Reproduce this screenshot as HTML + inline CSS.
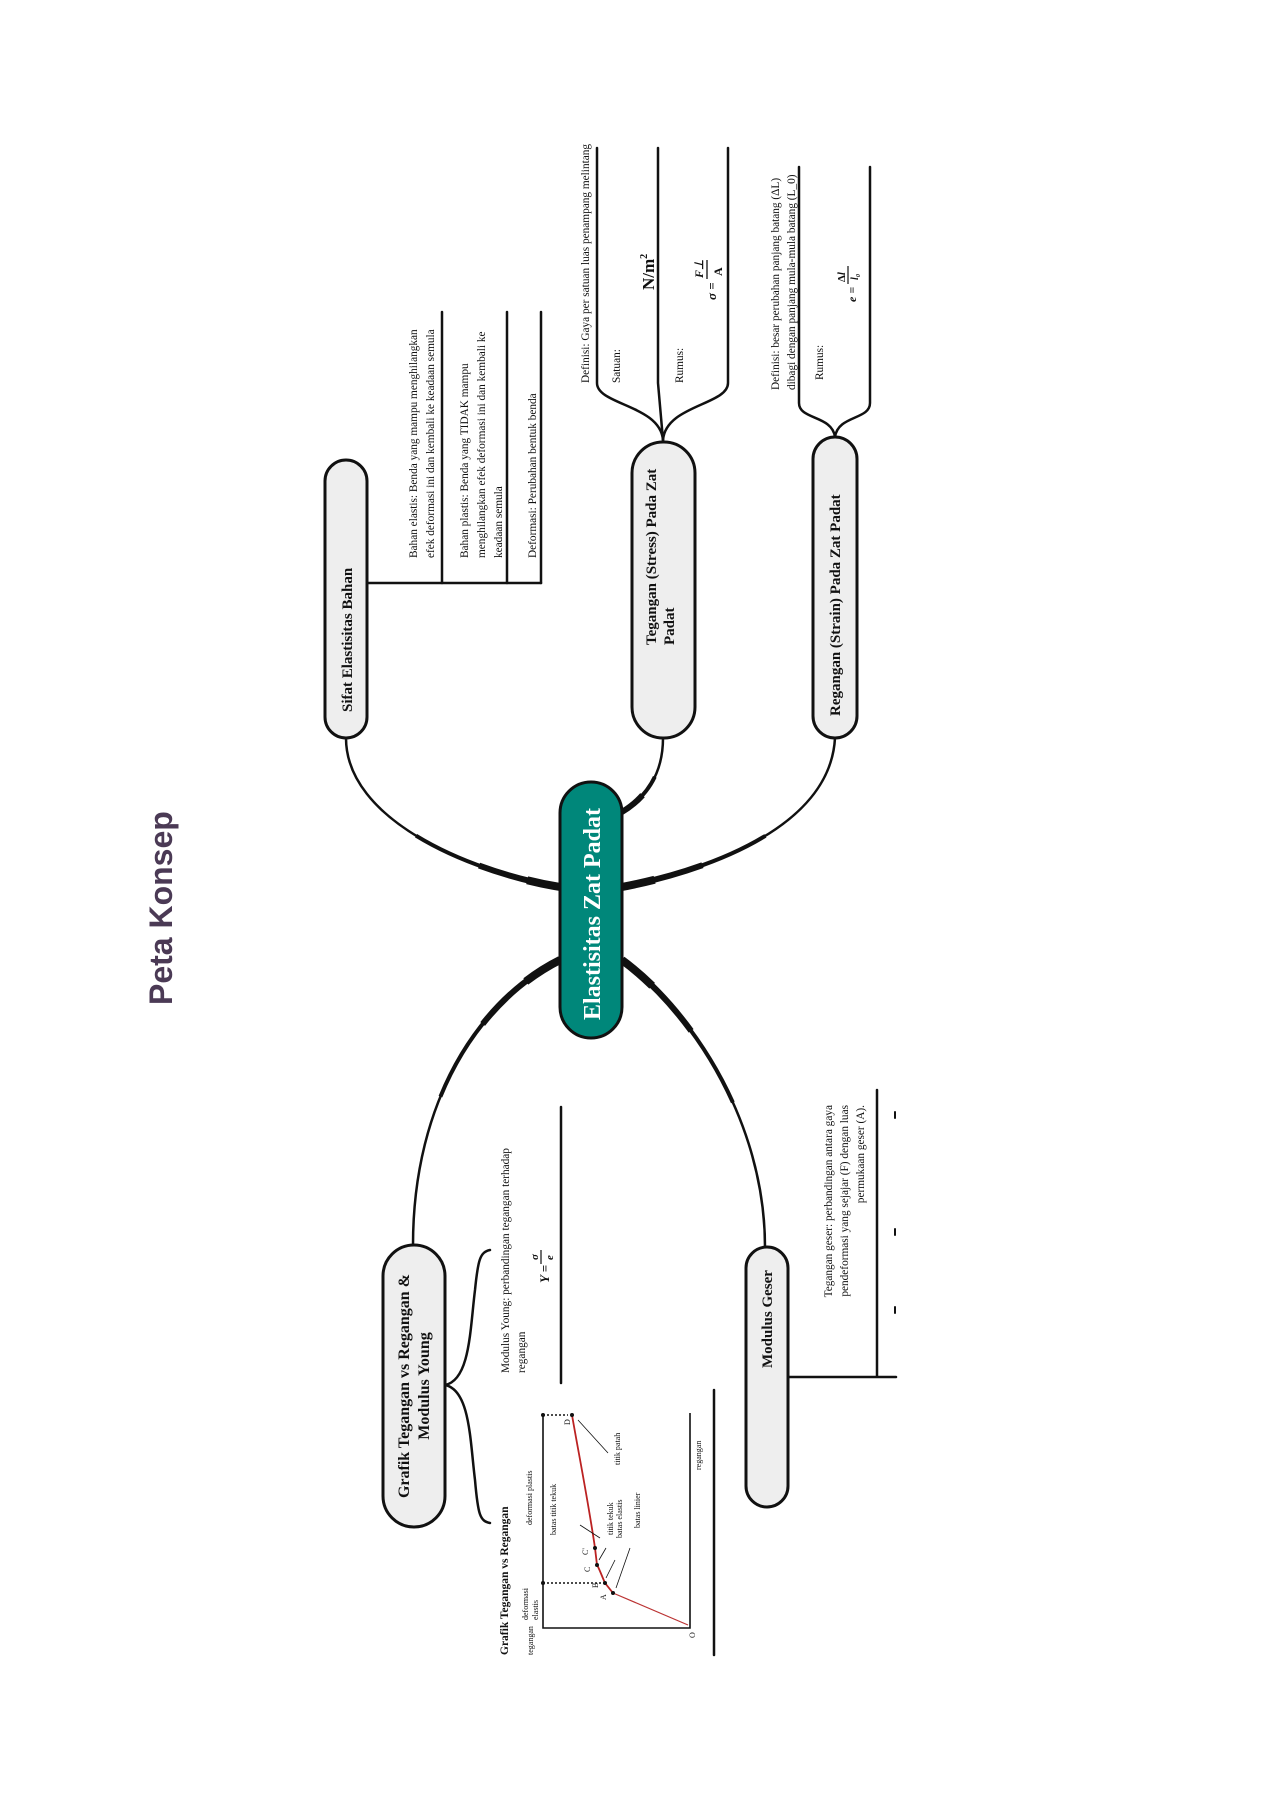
<!DOCTYPE html>
<html><head><meta charset="utf-8"><style>
html,body{margin:0;padding:0;background:#fff;}
svg{display:block;}
text{font-family:"Liberation Serif",serif;fill:#111;}
.b{font-weight:bold;}
</style></head><body>
<svg width="1272" height="1800" viewBox="0 0 1272 1800" xmlns="http://www.w3.org/2000/svg">
<defs>
<path id="c1" d="M346,738 C346,820 470,872 560,887"/>
<path id="c2" d="M663,738 C663,775 645,798 622,812"/>
<path id="c3" d="M835,738 C830,830 700,872 622,887"/>
<path id="c4" d="M413,1245 C413,1100 480,1000 560,960"/>
<path id="c5" d="M765,1247 C765,1120 690,1010 622,960"/>
</defs>
<!-- Title -->
<text transform="translate(172,1005) rotate(-90)" style="font-family:'Liberation Sans',sans-serif;font-weight:bold;font-size:32px;fill:#4b3a55">Peta Konsep</text>

<g fill="none" stroke="#111" stroke-linecap="butt">
<!-- main connectors (tapered) -->
<g stroke-width="2.5">
<path d="M346,738 C346,820 470,872 560,887"/>
<path d="M663,738 C663,775 645,798 622,812"/>
<path d="M835,738 C830,830 700,872 622,887"/>
<path d="M413,1245 C413,1100 480,1000 560,960"/>
<path d="M765,1247 C765,1120 690,1010 622,960"/>
</g>
<g stroke-width="4" stroke-dasharray="0 45 55">
<path pathLength="100" d="M346,738 C346,820 470,872 560,887"/>
<path pathLength="100" d="M663,738 C663,775 645,798 622,812"/>
<path pathLength="100" d="M835,738 C830,830 700,872 622,887"/>
<path pathLength="100" d="M413,1245 C413,1100 480,1000 560,960"/>
<path pathLength="100" d="M765,1247 C765,1120 690,1010 622,960"/>
</g>
<g stroke-width="6" stroke-dasharray="0 70 30">
<path pathLength="100" d="M346,738 C346,820 470,872 560,887"/>
<path pathLength="100" d="M663,738 C663,775 645,798 622,812"/>
<path pathLength="100" d="M835,738 C830,830 700,872 622,887"/>
<path pathLength="100" d="M413,1245 C413,1100 480,1000 560,960"/>
<path pathLength="100" d="M765,1247 C765,1120 690,1010 622,960"/>
</g>
<g stroke-width="8" stroke-dasharray="0 88 12">
<path pathLength="100" d="M346,738 C346,820 470,872 560,887"/>
<path pathLength="100" d="M835,738 C830,830 700,872 622,887"/>
<path pathLength="100" d="M413,1245 C413,1100 480,1000 560,960"/>
<path pathLength="100" d="M765,1247 C765,1120 690,1010 622,960"/>
</g>
</g>
<g fill="none" stroke="#111" stroke-linecap="round">
<!-- Sifat bracket -->
<path d="M367,583 L541,583" stroke-width="2.5"/>
<path d="M442,312 L442,583 M507,312 L507,583 M541,312 L541,583" stroke-width="2.5"/>

<!-- Stress branches -->
<path d="M597,148 L597,383 C597,405 660,405 663,440" stroke-width="2.5"/>
<path d="M658,148 L658,383 L663,440" stroke-width="2.5"/>
<path d="M728,148 L728,383 C728,405 666,405 663,440" stroke-width="2.5"/>

<!-- Strain branches -->
<path d="M799,167 L799,403 C799,420 832,415 835,437" stroke-width="2.5"/>
<path d="M870,167 L870,403 C870,420 838,415 835,437" stroke-width="2.5"/>

<!-- Grafik brace -->
<path d="M445,1385 C470,1380 470,1330 475,1290 C478,1260 480,1252 490,1250" stroke-width="2.5"/>
<path d="M445,1385 C470,1390 470,1440 475,1480 C478,1515 480,1521 490,1523" stroke-width="2.5"/>
<path d="M561,1107 L561,1383" stroke-width="2.5"/>
<path d="M714,1390 L714,1655" stroke-width="2.5"/>

<!-- Modulus geser -->
<path d="M788,1377 L896,1377 M877,1090 L877,1377" stroke-width="2.5"/>
<path d="M895,1112 L895,1118 M895,1229 L895,1235 M895,1307 L895,1313" stroke-width="2"/>
</g>

<!-- Nodes -->
<g stroke="#111" stroke-width="3" fill="#eeeeee">
<rect x="325" y="460" width="42" height="278" rx="21"/>
<rect x="632" y="442" width="63" height="296" rx="31"/>
<rect x="813" y="437" width="44" height="301" rx="22"/>
<rect x="383" y="1245" width="62" height="282" rx="31"/>
<rect x="746" y="1247" width="42" height="260" rx="21"/>
<rect x="560" y="782" width="62" height="256" rx="31" fill="#00877a"/>
</g>

<text class="b" transform="translate(352,712) rotate(-90)" font-size="15">Sifat Elastisitas Bahan</text>
<text transform="translate(656,645) rotate(-90)" font-size="15" class="b">Tegangan  (Stress) Pada Zat</text>
<text transform="translate(674,645) rotate(-90)" font-size="15" class="b">Padat</text>
<text transform="translate(840,716) rotate(-90)" font-size="15" class="b">Regangan (Strain) Pada Zat Padat</text>
<text transform="translate(600,1020) rotate(-90)" font-size="24" class="b" style="fill:#fff">Elastisitas Zat Padat</text>
<text transform="translate(409,1386) rotate(-90)" font-size="16" class="b" text-anchor="middle">Grafik Tegangan vs Regangan &amp;</text>
<text transform="translate(429,1386) rotate(-90)" font-size="16" class="b" text-anchor="middle">Modulus Young</text>
<text transform="translate(772,1368) rotate(-90)" font-size="15" class="b">Modulus Geser</text>

<g font-size="11.3">
<text transform="translate(417,558) rotate(-90)">Bahan elastis: Benda yang mampu menghilangkan</text>
<text transform="translate(434,558) rotate(-90)">efek deformasi ini dan kembali ke keadaan semula</text>
<text transform="translate(468,558) rotate(-90)">Bahan plastis: Benda yang TIDAK mampu</text>
<text transform="translate(485,558) rotate(-90)">menghilangkan efek deformasi ini dan kembali ke</text>
<text transform="translate(502,558) rotate(-90)">keadaan semula</text>
<text transform="translate(536,558) rotate(-90)">Deformasi: Perubahan bentuk benda</text>

<text transform="translate(589,383) rotate(-90)">Definisi: Gaya per satuan luas penampang melintang</text>
<text transform="translate(620,383) rotate(-90)">Satuan:</text>
<text transform="translate(683,383) rotate(-90)">Rumus:</text>

<text transform="translate(779,390) rotate(-90)">Definisi: besar perubahan panjang batang (ΔL)</text>
<text transform="translate(795,390) rotate(-90)">dibagi dengan panjang mula-mula batang (L_0)</text>
<text transform="translate(823,380) rotate(-90)">Rumus:</text>

<text transform="translate(509,1373) rotate(-90)">Modulus Young: perbandingan tegangan terhadap</text>
<text transform="translate(525,1373) rotate(-90)">regangan</text>

<text transform="translate(832,1105) rotate(-90)" text-anchor="end">Tegangan geser: perbandingan antara gaya</text>
<text transform="translate(848,1105) rotate(-90)" text-anchor="end">pendeformasi yang sejajar (F) dengan luas</text>
<text transform="translate(864,1105) rotate(-90)" text-anchor="end">permukaan geser (A).</text>
</g>

<!-- formulas -->
<text transform="translate(654,290) rotate(-90)" font-size="17" class="b">N/m<tspan font-size="10" dy="-7">2</tspan></text>
<text transform="translate(716,300) rotate(-90)" font-size="13" font-style="italic" class="b">σ =</text>
<text transform="translate(703,278) rotate(-90)" font-size="12" font-style="italic" class="b">F⊥</text>
<line x1="707" y1="260" x2="707" y2="279" stroke="#111" stroke-width="1.3"/>
<text transform="translate(722,276) rotate(-90)" font-size="12" class="b">A</text>

<text transform="translate(856,302) rotate(-90)" font-size="12" font-style="italic" class="b">e =</text>
<text transform="translate(845,282) rotate(-90)" font-size="11" class="b">Δ<tspan font-style="italic">l</tspan></text>
<line x1="848" y1="266" x2="848" y2="284" stroke="#111" stroke-width="1.2"/>
<text transform="translate(858,280) rotate(-90)" font-size="10" font-style="italic" class="b">l₀</text>

<text transform="translate(549,1283) rotate(-90)" font-size="13" font-style="italic" class="b">Y =</text>
<text transform="translate(538,1260) rotate(-90)" font-size="11" font-style="italic" class="b">σ</text>
<line x1="541" y1="1250" x2="541" y2="1264" stroke="#111" stroke-width="1.2"/>
<text transform="translate(553,1260) rotate(-90)" font-size="11" font-style="italic" class="b">e</text>

<!-- Graph -->
<text transform="translate(508,1655) rotate(-90)" font-size="11.5" class="b">Grafik Tegangan vs Regangan</text>
<g fill="none" stroke="#111">
<path d="M543,1415 L543,1628 L690,1628 L690,1413" stroke-width="1.6"/>
<path d="M543,1583 L605,1583 M543,1415 L568,1415" stroke-width="1.6" stroke-dasharray="2,2"/>
<path d="M688,1625 L613,1593" stroke="#b33" stroke-width="1.2"/>
<path d="M613,1593 L605,1583 C601,1574 599,1568 597,1565 L595,1548 C588,1500 578,1450 572,1415" stroke="#b22" stroke-width="1.8"/>
<path d="M608,1453 L578,1420 M600,1538 L580,1525 M606,1548 L599,1560 M615,1560 L606,1578 M630,1548 L616,1588" stroke-width="0.8"/>
</g>
<g fill="#111">
<circle cx="543" cy="1583" r="2"/><circle cx="543" cy="1415" r="2"/>
<circle cx="613" cy="1593" r="2"/><circle cx="605" cy="1583" r="2"/>
<circle cx="597" cy="1565" r="2"/><circle cx="595" cy="1548" r="2"/><circle cx="572" cy="1415" r="2"/>
</g>
<g font-size="8" style="fill:#333">
<text transform="translate(533,1655) rotate(-90)">tegangan</text>
<text transform="translate(528,1620) rotate(-90)">deformasi</text>
<text transform="translate(538,1620) rotate(-90)">elastis</text>
<text transform="translate(532,1525) rotate(-90)">deformasi plastis</text>
<text transform="translate(556,1535) rotate(-90)">batas titik tekuk</text>
<text transform="translate(613,1535) rotate(-90)">titik tekuk</text>
<text transform="translate(622,1538) rotate(-90)">batas elastis</text>
<text transform="translate(640,1528) rotate(-90)">batas linier</text>
<text transform="translate(620,1465) rotate(-90)">titik patah</text>
<text transform="translate(701,1470) rotate(-90)">regangan</text>
<text transform="translate(606,1600) rotate(-90)">A</text>
<text transform="translate(598,1588) rotate(-90)">B</text>
<text transform="translate(590,1572) rotate(-90)">C</text>
<text transform="translate(588,1555) rotate(-90)">C'</text>
<text transform="translate(570,1425) rotate(-90)">D</text>
<text transform="translate(695,1638) rotate(-90)">O</text>
</g>
</svg>
</body></html>
